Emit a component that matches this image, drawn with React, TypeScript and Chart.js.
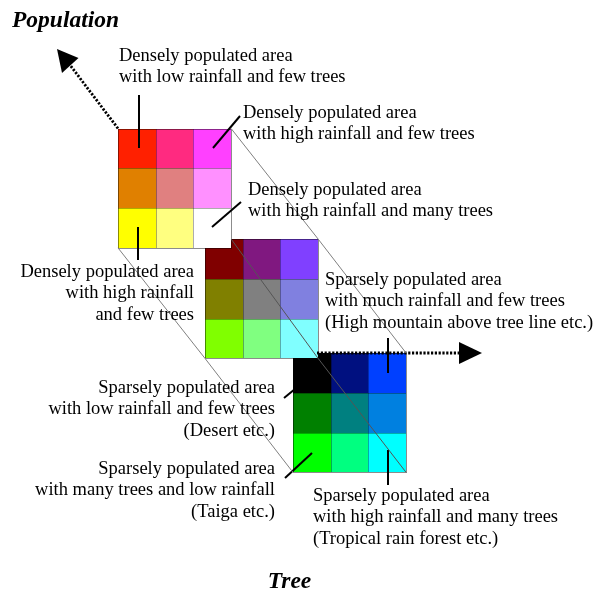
import React, { useEffect, useRef } from 'react';
import { Chart, registerables } from 'chart.js';

Chart.register(...registerables);

// ---------- DATA ----------
const populationLevels = ['Densely populated', 'Medium', 'Sparsely populated'];
const treeLevels = ['Few trees', 'Some trees', 'Many trees']; // rows
const rainfallLevels = ['Low rainfall', 'Medium rainfall', 'High rainfall']; // columns

const denseColors = ['#FF2000', '#FF2A80', '#FF40FF', '#E08000', '#E08080', '#FF90FF', '#FFFF00', '#FFFF80', '#FFFFFF'];
const mediumColors = ['#800000', '#801880', '#8040FF', '#808000', '#808080', '#8080E0', '#80FF00', '#80FF80', '#80FFFF'];
const sparseColors = ['#000000', '#001080', '#0040FF', '#008000', '#008080', '#0080E0', '#00FF00', '#00FF80', '#00FFFF'];

const yAxisTitle = 'Population';
const xAxisTitle = 'Tree';

const labelLines: string[][] = [
  ['Densely populated area', 'with low rainfall and few trees'],
  ['Densely populated area', 'with high rainfall and few trees'],
  ['Densely populated area', 'with high rainfall and many trees'],
  ['Densely populated area', 'with high rainfall', 'and few trees'],
  ['Sparsely populated area', 'with much rainfall and few trees', '(High mountain above tree line etc.)'],
  ['Sparsely populated area', 'with low rainfall and few trees', '(Desert etc.)'],
  ['Sparsely populated area', 'with many trees and low rainfall', '(Taiga etc.)'],
  ['Sparsely populated area', 'with high rainfall and many trees', '(Tropical rain forest etc.)'],
];

// ---------- LAYOUT ----------
const W = 608;
const H = 594;
const blockColors = [denseColors, mediumColors, sparseColors];
const blockOrigins = [
  { x: 118, y: 128.5 },
  { x: 205, y: 239 },
  { x: 293, y: 353 },
];
const cellW = 37.7;
const cellH = 39.8;

const labelLayout = [
  { x: 119, y: 61, align: 'left' },
  { x: 243, y: 118, align: 'left' },
  { x: 248, y: 195, align: 'left' },
  { x: 194, y: 277, align: 'right' },
  { x: 325, y: 285, align: 'left' },
  { x: 275, y: 393, align: 'right' },
  { x: 275, y: 474, align: 'right' },
  { x: 313, y: 501, align: 'left' },
];
const lineGap = 21.3;

const pointerSegments = [
  [{ x: 139, y: 95 }, { x: 139, y: 148 }],
  [{ x: 213, y: 148 }, { x: 240, y: 116 }],
  [{ x: 212, y: 227 }, { x: 241, y: 202 }],
  [{ x: 138, y: 227 }, { x: 138, y: 260 }],
  [{ x: 388, y: 338 }, { x: 388, y: 373 }],
  [{ x: 284, y: 398 }, { x: 295, y: 389 }],
  [{ x: 285, y: 478 }, { x: 312, y: 453 }],
  [{ x: 388, y: 450 }, { x: 388, y: 485 }],
];

const popAxis = [{ x: 118, y: 128.5 }, { x: 70, y: 65 }];
const popArrow = [{ x: 57, y: 49 }, { x: 78.5, y: 58 }, { x: 62, y: 73 }];
const treeAxis = [{ x: 317, y: 353 }, { x: 459, y: 353 }];
const treeArrow = [{ x: 482, y: 353 }, { x: 459, y: 342 }, { x: 459, y: 364 }];

const topRight = blockOrigins.map((b) => ({ x: b.x + 3 * cellW, y: b.y }));
const bottomLeft = blockOrigins.map((b) => ({ x: b.x, y: b.y + 3 * cellH }));
const bottomRight = [
  { x: blockOrigins[0].x + 3 * cellW, y: blockOrigins[1].y },
  { x: blockOrigins[1].x + 3 * cellW, y: blockOrigins[1].y + 3 * cellH },
  { x: blockOrigins[2].x + 3 * cellW, y: blockOrigins[2].y + 3 * cellH },
];

const TEXT_FONT = '18.5px "Liberation Serif", "Times New Roman", serif';
const TITLE_FONT = 'italic bold 23.5px "Liberation Serif", "Times New Roman", serif';

const diagramPlugin = {
  id: 'diagram',
  beforeDatasetsDraw(chart: any) {
    const { ctx } = chart;
    const xs = chart.scales.x;
    const ys = chart.scales.y;
    const px = (v: number) => Math.round(xs.getPixelForValue(v));
    const py = (v: number) => Math.round(ys.getPixelForValue(v));
    ctx.save();
    ctx.fillStyle = '#ffffff';
    ctx.fillRect(0, 0, chart.width, chart.height);
    for (let b = blockOrigins.length - 1; b >= 0; b--) {
      const o = blockOrigins[b];
      const colors = blockColors[b];
      const xe = [0, 1, 2, 3].map((i) => px(o.x + i * cellW));
      const ye = [0, 1, 2, 3].map((i) => py(o.y + i * cellH));
      for (let r = 0; r < treeLevels.length; r++) {
        for (let c = 0; c < rainfallLevels.length; c++) {
          ctx.fillStyle = colors[r * 3 + c];
          ctx.fillRect(xe[c], ye[r], xe[c + 1] - xe[c], ye[r + 1] - ye[r]);
        }
      }
      ctx.lineWidth = 1;
      ctx.strokeStyle = 'rgba(0,0,0,0.32)';
      ctx.beginPath();
      for (let i = 1; i < 3; i++) {
        ctx.moveTo(xe[i] + 0.5, ye[0]);
        ctx.lineTo(xe[i] + 0.5, ye[3]);
        ctx.moveTo(xe[0], ye[i] + 0.5);
        ctx.lineTo(xe[3], ye[i] + 0.5);
      }
      ctx.stroke();
      ctx.strokeStyle = 'rgba(0,0,0,0.45)';
      ctx.strokeRect(xe[0] + 0.5, ye[0] + 0.5, xe[3] - xe[0], ye[3] - ye[0]);
    }
    ctx.restore();
  },
  afterDatasetsDraw(chart: any) {
    const { ctx } = chart;
    const xs = chart.scales.x;
    const ys = chart.scales.y;
    const px = (v: number) => xs.getPixelForValue(v);
    const py = (v: number) => ys.getPixelForValue(v);
    ctx.save();
    ctx.fillStyle = '#000000';
    [popArrow, treeArrow].forEach((tri) => {
      ctx.beginPath();
      tri.forEach((p, i) => (i === 0 ? ctx.moveTo(px(p.x), py(p.y)) : ctx.lineTo(px(p.x), py(p.y))));
      ctx.closePath();
      ctx.fill();
    });
    ctx.font = TEXT_FONT;
    ctx.textBaseline = 'alphabetic';
    labelLines.forEach((lines, i) => {
      const l = labelLayout[i];
      ctx.textAlign = l.align;
      lines.forEach((t, j) => ctx.fillText(t, px(l.x), py(l.y + j * lineGap)));
    });
    ctx.font = TITLE_FONT;
    ctx.textAlign = 'left';
    ctx.fillText(yAxisTitle, px(12), py(27));
    ctx.textAlign = 'center';
    ctx.fillText(xAxisTitle, px(289.5), py(588));
    ctx.restore();
  },
};

function lineDs(data: { x: number; y: number }[], color: string, width: number, dash: number[] = []) {
  return {
    data,
    showLine: true,
    borderColor: color,
    backgroundColor: color,
    borderWidth: width,
    borderDash: dash,
    borderCapStyle: 'butt',
    pointRadius: 0,
    pointHoverRadius: 0,
    tension: 0,
    clip: false,
  };
}

export default function App() {
  const ref = useRef<HTMLCanvasElement | null>(null);
  useEffect(() => {
    if (!ref.current) return;
    const datasets: any[] = [
      lineDs(topRight, '#808080', 1),
      lineDs(bottomLeft, '#808080', 1),
      lineDs(bottomRight, '#555555', 1),
      lineDs(popAxis, '#000000', 2.8, [2.2, 1.6]),
      lineDs(treeAxis, '#000000', 2.8, [2.2, 1.6]),
      ...pointerSegments.map((s) => lineDs(s, '#000000', 2)),
    ];
    const chart = new Chart(ref.current, {
      type: 'scatter',
      data: { datasets },
      options: {
        animation: false,
        responsive: false,
        maintainAspectRatio: false,
        events: [],
        layout: { padding: 0 },
        plugins: { legend: { display: false }, tooltip: { enabled: false }, title: { display: false } },
        scales: {
          x: { type: 'linear', min: 0, max: W, display: false },
          y: { type: 'linear', min: 0, max: H, reverse: true, display: false },
        },
      } as any,
      plugins: [diagramPlugin as any],
    });
    return () => chart.destroy();
  }, []);
  return (
    <div style={{ position: 'absolute', left: 0, top: 0, width: W, height: H, background: '#fff' }}>
      <canvas ref={ref} width={W} height={H} style={{ display: 'block', width: W, height: H }} />
    </div>
  );
}
